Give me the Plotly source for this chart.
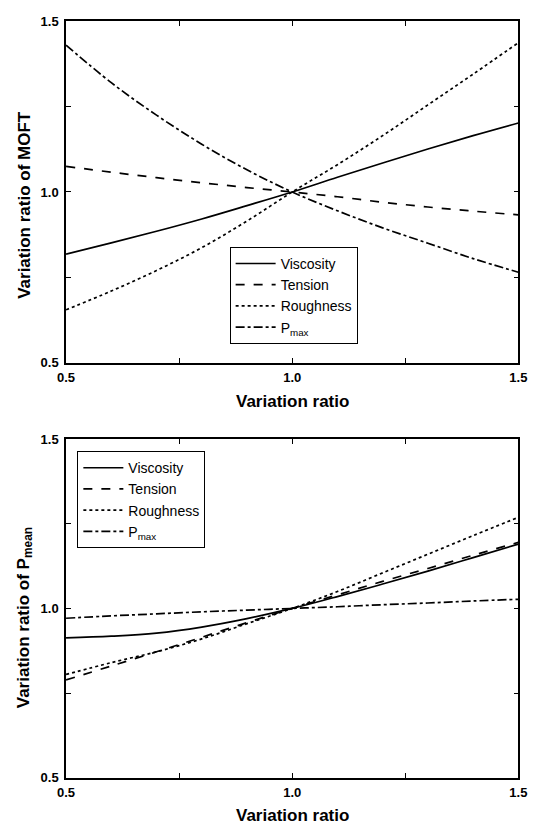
import plotly.graph_objects as go

x = [0.5, 0.6, 0.7, 0.8, 0.9, 1.0, 1.1, 1.2, 1.3, 1.4, 1.5]

# Top panel: variation ratio of MOFT
moft_viscosity = [0.818, 0.851, 0.885, 0.921, 0.960, 1.0, 1.043, 1.085, 1.126, 1.165, 1.202]
moft_tension = [1.075, 1.058, 1.042, 1.027, 1.013, 1.0, 0.986, 0.970, 0.956, 0.944, 0.933]
moft_roughness = [0.655, 0.710, 0.770, 0.837, 0.915, 1.0, 1.080, 1.165, 1.255, 1.345, 1.437]
moft_pmax = [1.430, 1.320, 1.225, 1.140, 1.065, 1.0, 0.945, 0.895, 0.850, 0.805, 0.765]

# Bottom panel: variation ratio of P_mean
pmean_viscosity = [0.913, 0.918, 0.927, 0.945, 0.970, 1.0, 1.035, 1.072, 1.110, 1.150, 1.190]
pmean_tension = [0.789, 0.830, 0.872, 0.915, 0.958, 1.0, 1.040, 1.080, 1.118, 1.157, 1.195]
pmean_roughness = [0.805, 0.840, 0.872, 0.910, 0.955, 1.0, 1.050, 1.105, 1.160, 1.215, 1.269]
pmean_pmax = [0.971, 0.978, 0.984, 0.990, 0.995, 1.0, 1.005, 1.011, 1.016, 1.022, 1.027]

names = ["Viscosity", "Tension", "Roughness", "P<sub>max</sub>"]
dashes = ["solid", "dash", "dot", "dashdot"]

tick_vals = [0.5, 1.0, 1.5]
tick_text = ["0.5", "1.0", "1.5"]
minor_vals = [0.75, 1.25]

x_title = "Variation ratio"
y_title_top = "Variation ratio of MOFT"
y_title_bottom = "Variation ratio of P<sub>mean</sub>"

fig = go.Figure()

top = [moft_viscosity, moft_tension, moft_roughness, moft_pmax]
bot = [pmean_viscosity, pmean_tension, pmean_roughness, pmean_pmax]

for name, d, ys in zip(names, dashes, top):
    fig.add_trace(go.Scatter(x=x, y=ys, name=name, mode="lines", line_shape="spline",
                             line=dict(color="black", width=1.7, dash=d),
                             xaxis="x", yaxis="y", legend="legend"))
for name, d, ys in zip(names, dashes, bot):
    fig.add_trace(go.Scatter(x=x, y=ys, name=name, mode="lines", line_shape="spline",
                             line=dict(color="black", width=1.7, dash=d),
                             xaxis="x2", yaxis="y2", legend="legend2"))

axis_common = dict(range=[0.5, 1.5], tickvals=tick_vals, ticktext=tick_text,
                   ticks="inside", ticklen=5, tickwidth=1.2, tickcolor="black",
                   minor=dict(tickvals=minor_vals, ticks="inside", ticklen=5, tickwidth=1.2, tickcolor="black"),
                   showline=True, linecolor="black", linewidth=1.6, mirror="ticks",
                   showgrid=False, zeroline=False,
                   tickfont=dict(family="Liberation Sans, Arial", size=13, color="black", weight="bold"))

title_font = dict(family="Liberation Sans, Arial", size=17, color="black", weight="bold")
legend_font = dict(family="Liberation Sans, Arial", size=14, color="black")

xd = [0.1099, 0.9814]
fig.update_layout(
    width=537, height=831,
    margin=dict(l=0, r=0, t=0, b=0),
    paper_bgcolor="white", plot_bgcolor="white",
    xaxis=dict(domain=xd, anchor="y", ticklabelstandoff=2, **axis_common),
    yaxis=dict(domain=[0.564, 0.9826], anchor="x", ticklabelstandoff=3, **axis_common),
    xaxis2=dict(domain=xd, anchor="y2", ticklabelstandoff=2, **axis_common),
    yaxis2=dict(domain=[0.0554, 0.4705], anchor="x2", ticklabelstandoff=3, **axis_common),
    legend=dict(x=0.4251, y=0.7060, xanchor="left", yanchor="top",
                bordercolor="black", borderwidth=1, bgcolor="white",
                font=legend_font, tracegroupgap=0, itemwidth=40),
    legend2=dict(x=0.1317, y=0.4557, xanchor="left", yanchor="top",
                 bordercolor="black", borderwidth=1, bgcolor="white",
                 font=legend_font, tracegroupgap=0, itemwidth=40),
    annotations=[
        dict(text=x_title, xref="paper", yref="paper", x=(xd[0] + xd[1]) / 2, y=(831 - 402) / 831,
             xanchor="center", yanchor="middle", showarrow=False, font=title_font),
        dict(text=x_title, xref="paper", yref="paper", x=(xd[0] + xd[1]) / 2, y=(831 - 823) / 831,
             xanchor="center", yanchor="middle", showarrow=False, font=title_font),
        dict(text=y_title_top, xref="paper", yref="paper", x=16 / 537, y=(831 - 201) / 831,
             xanchor="center", yanchor="middle", textangle=-90, showarrow=False, font=title_font),
        dict(text=y_title_bottom, xref="paper", yref="paper", x=16 / 537, y=(831 - 622) / 831,
             xanchor="center", yanchor="middle", textangle=-90, showarrow=False, font=title_font),
    ],
)

fig.write_html("out.html")
